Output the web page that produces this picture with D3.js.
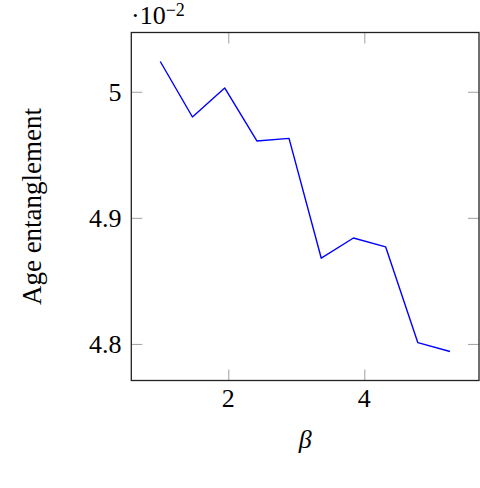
<!DOCTYPE html>
<html>
<head>
<meta charset="utf-8">
<script src="https://cdn.jsdelivr.net/npm/d3@7/dist/d3.min.js"></script>
<style>
  html, body { margin: 0; padding: 0; background: #fff; }
  svg { display: block; }
</style>
</head>
<body>
<svg id="chart" width="480" height="488"></svg>
<script>
const betaValues = [1.0, 1.473, 1.947, 2.42, 2.893, 3.367, 3.84, 4.313, 4.787, 5.26];
const ageEntanglement = [5.024, 4.980, 5.003, 4.961, 4.963, 4.868, 4.884, 4.877, 4.801, 4.794];
const xTickValues = [2, 4];
const yTickValues = [4.8, 4.9, 5];
const yTickLabels = ["4.8", "4.9", "5"];
const xLabel = "β";
const yLabel = "Age entanglement";

const FONT = "'Liberation Serif', 'DejaVu Serif', 'Times New Roman', serif";
const svg = d3.select("#chart");
const pLeft = 131.3, pRight = 479, pTop = 32.5, pBottom = 380.5;

function enlarged(arr) {
  const [a, b] = d3.extent(arr);
  const pad = (b - a) * 0.1;
  return [a - pad, b + pad];
}

const x = d3.scaleLinear().domain(enlarged(betaValues)).range([pLeft, pRight]);
const y = d3.scaleLinear().domain(enlarged(ageEntanglement)).range([pBottom, pTop]);

const tickLen = 11;
const tickColor = "#a0a0a0";

const xAxisB = d3.axisBottom(x).tickValues(xTickValues).tickSize(-tickLen).tickFormat("");
const xAxisT = d3.axisTop(x).tickValues(xTickValues).tickSize(-tickLen).tickFormat("");
const yAxisL = d3.axisLeft(y).tickValues(yTickValues).tickSize(-tickLen).tickFormat("");
const yAxisR = d3.axisRight(y).tickValues(yTickValues).tickSize(-tickLen).tickFormat("");

function styleAxis(g) {
  g.select(".domain").remove();
  g.selectAll(".tick line").attr("stroke", tickColor).attr("stroke-width", 1);
}
svg.append("g").attr("transform", `translate(0,${pBottom})`).call(xAxisB).call(styleAxis);
svg.append("g").attr("transform", `translate(0,${pTop})`).call(xAxisT).call(styleAxis);
svg.append("g").attr("transform", `translate(${pLeft},0)`).call(yAxisL).call(styleAxis);
svg.append("g").attr("transform", `translate(${pRight},0)`).call(yAxisR).call(styleAxis);

svg.append("g").selectAll("text").data(xTickValues).join("text")
  .attr("x", d => x(d)).attr("y", 406.5)
  .attr("font-family", FONT)
  .attr("text-anchor", "middle").attr("font-size", 26)
  .text(d => d3.format("d")(d));

svg.append("g").selectAll("text").data(yTickValues).join("text")
  .attr("x", 121.5).attr("y", d => y(d) + 9)
  .attr("font-family", FONT)
  .attr("text-anchor", "end").attr("font-size", 26)
  .text((d, i) => yTickLabels[i]);

const line = d3.line().x((d, i) => x(betaValues[i])).y(d => y(d));
svg.append("path").datum(ageEntanglement)
  .attr("d", line).attr("fill", "none")
  .attr("stroke", "#0000ff").attr("stroke-width", 1.4)
  .attr("stroke-linejoin", "round");

svg.append("rect").attr("x", pLeft).attr("y", pTop)
  .attr("width", pRight - pLeft).attr("height", pBottom - pTop)
  .attr("fill", "none").attr("stroke", "#222").attr("stroke-width", 1.3);

svg.append("text").attr("x", (pLeft + pRight) / 2).attr("y", 448)
  .attr("font-family", FONT)
  .attr("text-anchor", "middle").attr("font-size", 26).attr("font-style", "italic")
  .text(xLabel);

svg.append("text")
  .attr("transform", `translate(41,${(pTop + pBottom) / 2}) rotate(-90)`)
  .attr("font-family", FONT)
  .attr("text-anchor", "middle").attr("font-size", 27)
  .text(yLabel);

const sf = svg.append("text").attr("x", 131).attr("y", 24)
  .attr("font-family", FONT).attr("font-size", 26);
sf.append("tspan").text("·10");
sf.append("tspan").attr("dy", -8).attr("font-size", 18).text("−2");
</script>
</body>
</html>
